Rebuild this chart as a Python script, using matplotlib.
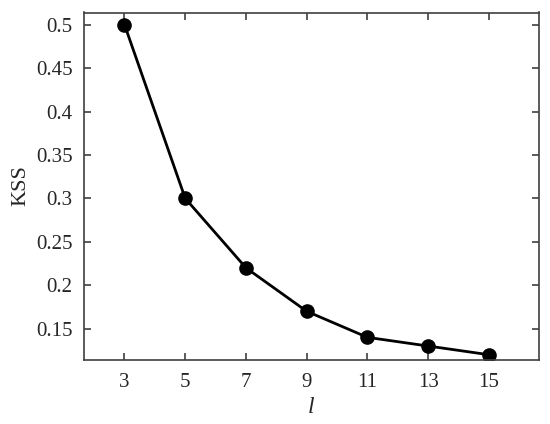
import matplotlib
matplotlib.use("Agg")
import matplotlib.pyplot as plt

plt.rcParams['font.family'] = ['Liberation Serif', 'DejaVu Serif']

# KSS vs l
l_values = [3, 5, 7, 9, 11, 13, 15]
kss = [0.50, 0.30, 0.22, 0.17, 0.14, 0.13, 0.12]
y_ticks = [0.15, 0.2, 0.25, 0.3, 0.35, 0.4, 0.45, 0.5]
y_labels = ['0.15', '0.2', '0.25', '0.3', '0.35', '0.4', '0.45', '0.5']

fig = plt.figure(figsize=(5.5, 4.24), dpi=100)
ax = fig.add_axes([83.5 / 550, 1 - 359.5 / 424, (539 - 83.5) / 550, (359.5 - 12.5) / 424])

ax.plot(l_values, kss, color='black', lw=2, marker='o', markersize=9.5)

ax.set_xlim(1.65, 16.65)
ax.set_ylim(0.1145, 0.514)
ax.set_xticks(l_values)
ax.set_yticks(y_ticks)
ax.set_yticklabels(y_labels)

for s in ax.spines.values():
    s.set_color('#404040')
    s.set_linewidth(1.2)
ax.tick_params(direction='in', length=5, width=1.2, color='#404040',
               top=True, right=True, labelsize=15, labelcolor='#262626')
ax.tick_params(axis='x', pad=10)
ax.tick_params(axis='y', pad=8)

ax.set_ylabel('KSS', fontsize=16, color='#262626', labelpad=4)
ax.set_xlabel('l', fontsize=17, style='italic', color='#262626', labelpad=3)

fig.savefig('out.png', dpi=100)
